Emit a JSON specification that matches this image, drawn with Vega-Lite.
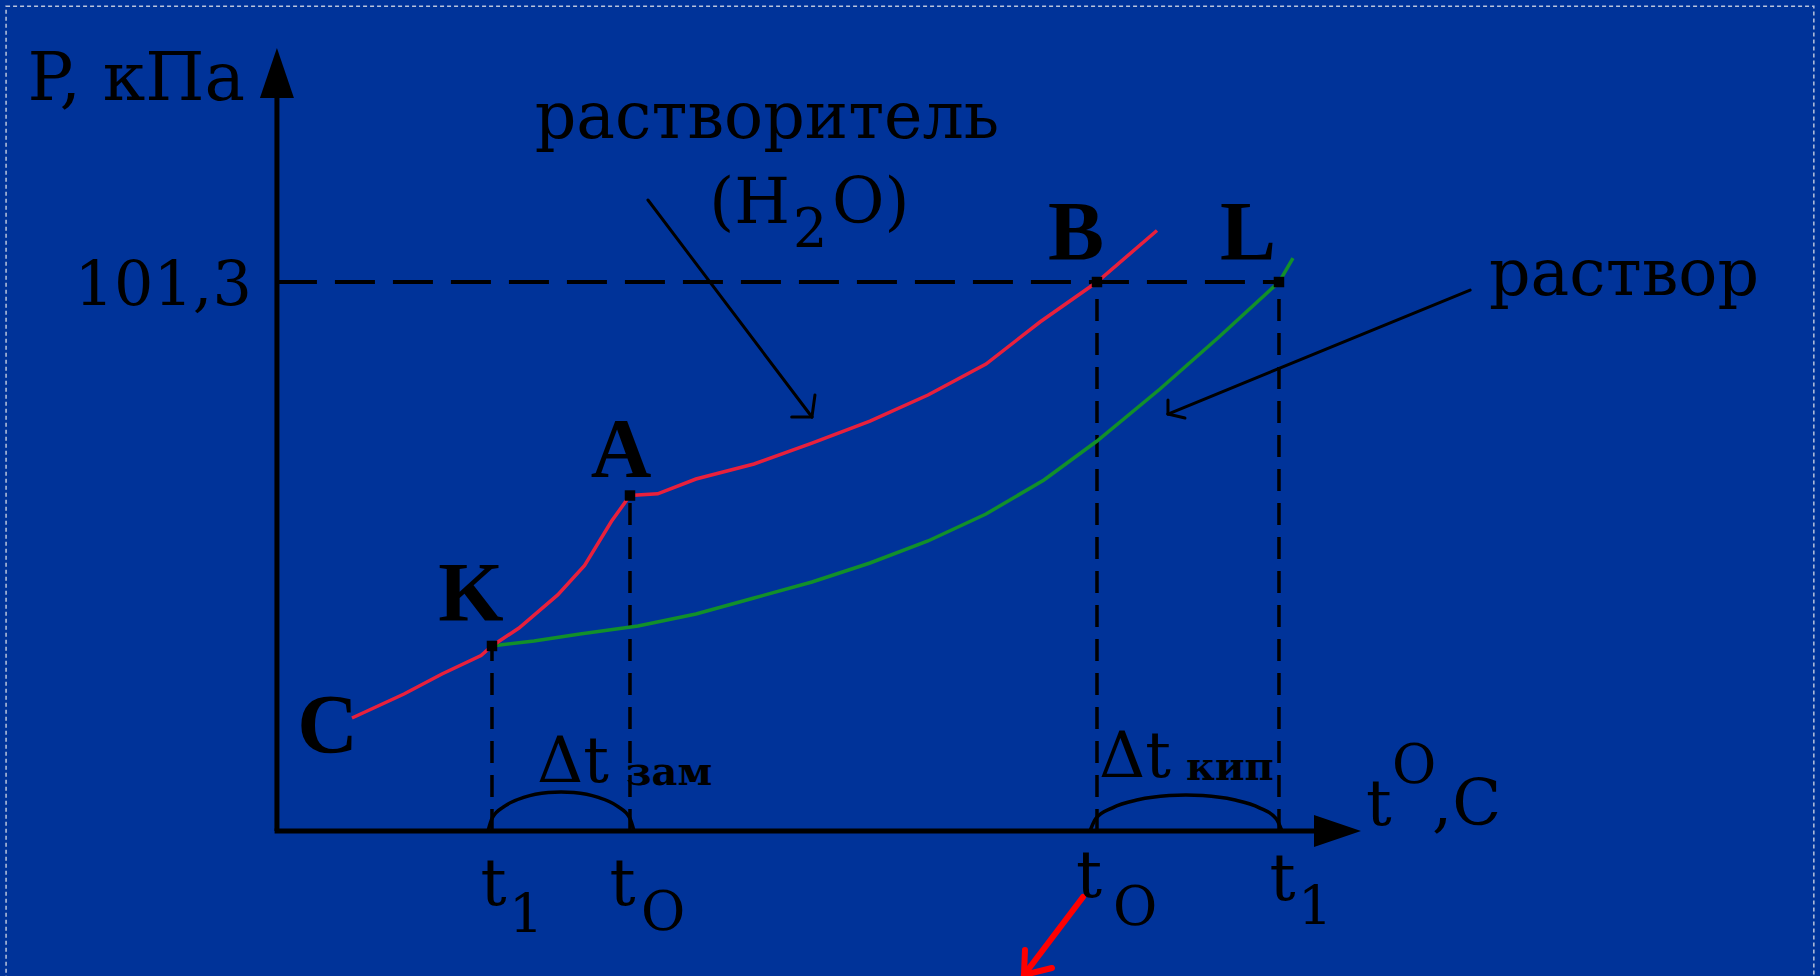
{
  "$schema": "https://vega.github.io/schema/vega-lite/v6.json",
  "width": 1820,
  "height": 976,
  "autosize": {"type": "none"},
  "padding": 0,
  "background": "#003399",
  "config": {"view": {"stroke": null}},
  "datasets": {
    "frame": [{"t": -133.6, "P": 152.2, "t2": 253.5, "P2": -40}],
    "solvent": [
      {"t": -59.53, "P": 20.85}, {"t": -48.39, "P": 25.28}, {"t": -40.26, "P": 28.97},
      {"t": -31.9, "P": 32.38}, {"t": -29.55, "P": 34.14}, {"t": -23.77, "P": 37.46},
      {"t": -15.48, "P": 43.56}, {"t": -9.72, "P": 49.01}, {"t": -3.96, "P": 57.15},
      {"t": 0, "P": 61.9}, {"t": 5.93, "P": 62.22}, {"t": 14.13, "P": 64.95},
      {"t": 26.55, "P": 67.72}, {"t": 38.97, "P": 71.59}, {"t": 51.39, "P": 75.65},
      {"t": 63.81, "P": 80.45}, {"t": 76.23, "P": 86.17}, {"t": 87.79, "P": 93.92},
      {"t": 100, "P": 101.3}, {"t": 112.85, "P": 110.8}
    ],
    "solution": [
      {"t": -29.55, "P": 34.14}, {"t": -20.56, "P": 35.06}, {"t": -10.71, "P": 36.35},
      {"t": 1.71, "P": 37.83}, {"t": 14.13, "P": 40.04}, {"t": 26.55, "P": 42.99},
      {"t": 38.97, "P": 45.94}, {"t": 51.39, "P": 49.45}, {"t": 63.81, "P": 53.51},
      {"t": 76.23, "P": 58.49}, {"t": 88.65, "P": 64.77}, {"t": 100, "P": 71.96},
      {"t": 113.49, "P": 81.56}, {"t": 126.12, "P": 91.15}, {"t": 138.97, "P": 101.3},
      {"t": 141.97, "P": 105.73}
    ],
    "arcs": [
      {"arc": "зам", "i": 0, "t": 0.86, "P": 0}, {"arc": "зам", "i": 1, "t": -0.08, "P": 2.46},
      {"arc": "зам", "i": 2, "t": -2.8, "P": 4.63}, {"arc": "зам", "i": 3, "t": -6.96, "P": 6.24},
      {"arc": "зам", "i": 4, "t": -12.05, "P": 7.09}, {"arc": "зам", "i": 5, "t": -14.77, "P": 7.2},
      {"arc": "зам", "i": 6, "t": -17.49, "P": 7.09}, {"arc": "зам", "i": 7, "t": -22.58, "P": 6.24},
      {"arc": "зам", "i": 8, "t": -26.74, "P": 4.63}, {"arc": "зам", "i": 9, "t": -29.46, "P": 2.46},
      {"arc": "зам", "i": 10, "t": -30.4, "P": 0},
      {"arc": "кип", "i": 0, "t": 139.6, "P": 0}, {"arc": "кип", "i": 1, "t": 138.36, "P": 2.27},
      {"arc": "кип", "i": 2, "t": 134.79, "P": 4.27}, {"arc": "кип", "i": 3, "t": 129.33, "P": 5.75},
      {"arc": "кип", "i": 4, "t": 122.63, "P": 6.54}, {"arc": "кип", "i": 5, "t": 119.05, "P": 6.64},
      {"arc": "кип", "i": 6, "t": 115.47, "P": 6.54}, {"arc": "кип", "i": 7, "t": 108.78, "P": 5.75},
      {"arc": "кип", "i": 8, "t": 103.31, "P": 4.27}, {"arc": "кип", "i": 9, "t": 99.74, "P": 2.27},
      {"arc": "кип", "i": 10, "t": 98.5, "P": 0}
    ],
    "pointers": [
      {"t": 3.85, "P": 116.43, "t2": 38.96, "P2": 76.39},
      {"t": 38.96, "P": 76.39, "t2": 39.61, "P2": 80.45},
      {"t": 38.96, "P": 76.39, "t2": 34.63, "P2": 76.39},
      {"t": 179.9, "P": 99.82, "t2": 115.2, "P2": 76.94},
      {"t": 115.2, "P": 76.94, "t2": 118.84, "P2": 76.2},
      {"t": 115.2, "P": 76.94, "t2": 115.2, "P2": 79.53}
    ],
    "redPointer": [
      {"t": 97.0, "P": -12.18, "t2": 84.37, "P2": -26.57},
      {"t": 84.37, "P": -26.57, "t2": 84.58, "P2": -21.96},
      {"t": 84.37, "P": -26.57, "t2": 90.36, "P2": -25.28}
    ],
    "points": [
      {"name": "K", "t": -29.55, "P": 34.14}, {"name": "A", "t": 0, "P": 61.9},
      {"name": "B", "t": 100, "P": 101.3}, {"name": "L", "t": 138.97, "P": 101.3}
    ]
  },
  "encoding": {
    "x": {"field": "t", "type": "quantitative", "scale": {"domain": [-134.9, 254.82], "nice": false, "zero": false}, "axis": null},
    "y": {"field": "P", "type": "quantitative", "scale": {"domain": [-26.76, 153.34], "nice": false, "zero": false}, "axis": null}
  },
  "layer": [
    {
      "data": {"name": "frame"},
      "mark": {"type": "rect", "fillOpacity": 0, "stroke": "#b9c3dc", "strokeWidth": 1.5, "strokeDash": [4, 3]},
      "encoding": {"x2": {"field": "t2"}, "y2": {"field": "P2"}}
    },
    {
      "data": {"values": [{"t": -75.6, "P": 101.3, "t2": 138.97}]},
      "mark": {"type": "rule", "color": "black", "strokeWidth": 4, "strokeDash": [40, 18]},
      "encoding": {"x2": {"field": "t2"}}
    },
    {
      "data": {"values": [
        {"t": -29.55, "P": 0, "P2": 34.14}, {"t": 0, "P": 0, "P2": 61.9},
        {"t": 100, "P": 0, "P2": 101.3}, {"t": 138.97, "P": 0, "P2": 101.3}
      ]},
      "mark": {"type": "rule", "color": "black", "strokeWidth": 3.5, "strokeDash": [22, 12]},
      "encoding": {"y2": {"field": "P2"}}
    },
    {
      "data": {"name": "arcs"},
      "mark": {"type": "line", "color": "black", "strokeWidth": 3.5, "interpolate": "monotone"},
      "encoding": {"detail": {"field": "arc"}, "order": {"field": "i", "type": "quantitative"}}
    },
    {
      "data": {"name": "solution"},
      "mark": {"type": "line", "color": "#12902a", "strokeWidth": 3.5},
      "encoding": {"order": {"field": "t", "type": "quantitative"}}
    },
    {
      "data": {"name": "solvent"},
      "mark": {"type": "line", "color": "#e8203c", "strokeWidth": 3.5},
      "encoding": {"order": {"field": "t", "type": "quantitative"}}
    },
    {
      "data": {"values": [{"t": -75.6, "P": 0, "P2": 136}]},
      "mark": {"type": "rule", "color": "black", "strokeWidth": 5},
      "encoding": {"y2": {"field": "P2"}}
    },
    {
      "data": {"values": [{"t": -76.1, "P": 0, "t2": 148}]},
      "mark": {"type": "rule", "color": "black", "strokeWidth": 5},
      "encoding": {"x2": {"field": "t2"}}
    },
    {
      "data": {"values": [{"t": -75.6, "P": 139.86}]},
      "mark": {"type": "point", "shape": "M0,-1L0.68,1L-0.68,1Z", "filled": true, "color": "black", "opacity": 1, "size": 2500}
    },
    {
      "data": {"values": [{"t": 151.5, "P": 0}]},
      "mark": {"type": "point", "shape": "M1,0L-1,-0.68L-1,0.68Z", "filled": true, "color": "black", "opacity": 1, "size": 2209}
    },
    {
      "data": {"name": "pointers"},
      "mark": {"type": "rule", "color": "black", "strokeWidth": 3, "strokeCap": "round"},
      "encoding": {"x2": {"field": "t2"}, "y2": {"field": "P2"}}
    },
    {
      "data": {"name": "redPointer"},
      "mark": {"type": "rule", "color": "#ff0000", "strokeWidth": 6, "strokeCap": "round"},
      "encoding": {"x2": {"field": "t2"}, "y2": {"field": "P2"}}
    },
    {
      "data": {"name": "points"},
      "mark": {"type": "point", "shape": "square", "filled": true, "color": "black", "opacity": 1, "size": 110}
    },
    {
      "data": {"values": [{"label": "P, кПа", "t": -82.44, "P": 134.88}]},
      "mark": {"type": "text", "font": "DejaVu Serif", "fontSize": 68, "align": "right", "baseline": "alphabetic", "color": "black"},
      "encoding": {"text": {"field": "label"}}
    },
    {
      "data": {"values": [{"label": "(H", "t": 34.26, "P": 112.19}]},
      "mark": {"type": "text", "font": "DejaVu Serif", "fontSize": 64, "align": "right", "baseline": "alphabetic", "color": "black"},
      "encoding": {"text": {"field": "label"}}
    },
    {
      "data": {"values": [{"label": "101,3", "t": -80.94, "P": 97.06}]},
      "mark": {"type": "text", "font": "DejaVu Serif", "fontSize": 62, "align": "right", "baseline": "alphabetic", "color": "black"},
      "encoding": {"text": {"field": "label"}}
    },
    {
      "data": {"values": [
        {"label": "растворитель", "t": 29.34, "P": 127.87},
        {"label": "раствор", "t": 212.85, "P": 98.9},
        {"label": "t", "t": -29.23, "P": -13.65},
        {"label": "t", "t": -1.61, "P": -13.65},
        {"label": "t", "t": 98.29, "P": -12.18},
        {"label": "t", "t": 139.72, "P": -12.73}
      ]},
      "mark": {"type": "text", "font": "DejaVu Serif", "fontSize": 65, "align": "center", "baseline": "alphabetic", "color": "black"},
      "encoding": {"text": {"field": "label"}}
    },
    {
      "data": {"values": [
        {"label": "O)", "t": 43.25, "P": 112.19},
        {"label": "Δt", "t": -19.91, "P": 9.04},
        {"label": "Δt", "t": 100.43, "P": 9.96},
        {"label": "t", "t": 157.6, "P": 1.11},
        {"label": ",C", "t": 171.73, "P": 1.11}
      ]},
      "mark": {"type": "text", "font": "DejaVu Serif", "fontSize": 64, "align": "left", "baseline": "alphabetic", "color": "black"},
      "encoding": {"text": {"field": "label"}}
    },
    {
      "data": {"values": [
        {"label": "2", "t": 34.9, "P": 107.76},
        {"label": "1", "t": -25.91, "P": -18.82},
        {"label": "O", "t": 2.36, "P": -18.27},
        {"label": "O", "t": 103.43, "P": -17.34},
        {"label": "1", "t": 143.04, "P": -17.34},
        {"label": "O", "t": 163.17, "P": 8.86}
      ]},
      "mark": {"type": "text", "font": "DejaVu Serif", "fontSize": 54, "align": "left", "baseline": "alphabetic", "color": "black"},
      "encoding": {"text": {"field": "label"}}
    },
    {
      "data": {"values": [
        {"label": "зам", "t": -0.86, "P": 8.49},
        {"label": "кип", "t": 119.06, "P": 9.41}
      ]},
      "mark": {"type": "text", "font": "DejaVu Serif", "fontSize": 40, "fontWeight": "bold", "align": "left", "baseline": "alphabetic", "color": "black"},
      "encoding": {"text": {"field": "label"}}
    },
    {
      "data": {"values": [
        {"label": "A", "t": -1.93, "P": 65.32},
        {"label": "K", "t": -34.05, "P": 38.82},
        {"label": "C", "t": -64.78, "P": 14.39},
        {"label": "B", "t": 95.5, "P": 105.36},
        {"label": "L", "t": 132.33, "P": 105.36}
      ]},
      "mark": {"type": "text", "font": "Liberation Serif", "fontSize": 84, "fontWeight": "bold", "align": "center", "baseline": "alphabetic", "color": "black"},
      "encoding": {"text": {"field": "label"}}
    }
  ]
}
